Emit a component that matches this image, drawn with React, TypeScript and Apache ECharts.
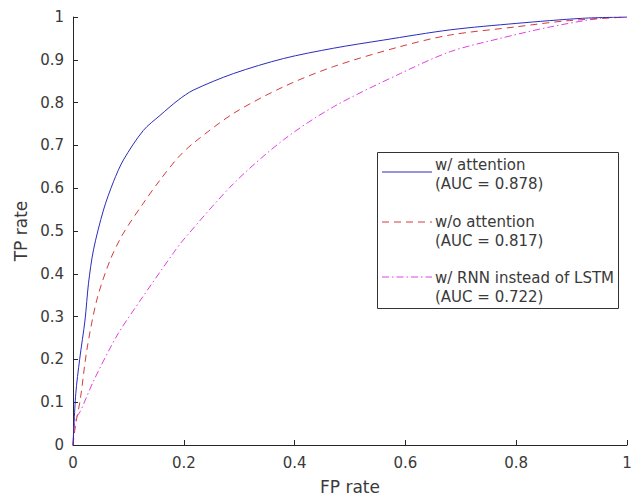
import React, { useEffect, useRef } from "react";
import * as echarts from "echarts";

const xTicks = [0, 0.2, 0.4, 0.6, 0.8, 1];
const yTicks = [0, 0.1, 0.2, 0.3, 0.4, 0.5, 0.6, 0.7, 0.8, 0.9, 1];

const attentionFpr = [0, 0.005, 0.012, 0.0217, 0.028, 0.037, 0.055, 0.073, 0.091, 0.127, 0.157, 0.19, 0.217, 0.29, 0.38, 0.47, 0.56, 0.681, 0.8, 0.92, 1];
const attentionTpr = [0, 0.12, 0.2, 0.292, 0.378, 0.456, 0.549, 0.615, 0.666, 0.735, 0.77, 0.806, 0.829, 0.868, 0.903, 0.927, 0.946, 0.97, 0.985, 0.997, 1];

const noAttentionFpr = [0, 0.005, 0.013, 0.025, 0.043, 0.067, 0.091, 0.127, 0.157, 0.19, 0.217, 0.29, 0.38, 0.47, 0.591, 0.681, 0.8, 0.89, 1];
const noAttentionTpr = [0, 0.05, 0.105, 0.222, 0.339, 0.432, 0.495, 0.565, 0.619, 0.672, 0.705, 0.775, 0.837, 0.884, 0.931, 0.958, 0.977, 0.991, 1];

const rnnFpr = [0, 0.004, 0.013, 0.038, 0.08, 0.12, 0.182, 0.199, 0.29, 0.38, 0.47, 0.591, 0.681, 0.771, 0.862, 0.952, 1];
const rnnTpr = [0, 0.06, 0.078, 0.152, 0.257, 0.335, 0.45, 0.479, 0.611, 0.713, 0.79, 0.868, 0.919, 0.95, 0.977, 0.997, 1];

const seriesNames = ["w/ attention", "w/o attention", "w/ RNN instead of LSTM"];
const aucLabels = ["(AUC = 0.878)", "(AUC = 0.817)", "(AUC = 0.722)"];

const colors = ["#2b2bbf", "#d43a3a", "#e040e0"];
const dashes: (number[] | null)[] = [null, [7, 5], [7, 3, 1.5, 3]];

const zip = (xs: number[], ys: number[]) => xs.map((x, i) => [x, ys[i]]);

const FONT = "DejaVu Sans";
const TXT = "#3a3a3a";

export default function App() {
  const ref = useRef<HTMLDivElement>(null);
  useEffect(() => {
    if (!ref.current) return;
    const chart = echarts.init(ref.current, undefined, { renderer: "svg" });
    const datas = [
      zip(attentionFpr, attentionTpr),
      zip(noAttentionFpr, noAttentionTpr),
      zip(rnnFpr, rnnTpr),
    ];
    const legendX = 377, legendY = 152, legendW = 241, legendH = 156;
    const lineYs = [172, 222, 277];
    const textYs = [[165, 184], [222, 241], [278, 297]];
    const graphics: any[] = [
      {
        type: "rect",
        shape: { x: legendX + 0.5, y: legendY + 0.5, width: legendW, height: legendH },
        style: { fill: "#fff", stroke: "#333", lineWidth: 1 },
        z: 100,
      },
    ];
    seriesNames.forEach((n, i) => {
      graphics.push({
        type: "line",
        shape: { x1: 382, y1: lineYs[i], x2: 432, y2: lineYs[i] },
        style: { stroke: colors[i], lineWidth: 1, lineDash: dashes[i] || undefined },
        z: 101,
      });
      graphics.push({
        type: "text",
        x: 435,
        y: textYs[i][0],
        style: { text: n, fill: TXT, font: `15px "${FONT}"`, verticalAlign: "middle", align: "left" },
        z: 101,
      });
      graphics.push({
        type: "text",
        x: 435,
        y: textYs[i][1],
        style: { text: aucLabels[i], fill: TXT, font: `15px "${FONT}"`, verticalAlign: "middle", align: "left" },
        z: 101,
      });
    });

    const axisCommon = {
      type: "value" as const,
      min: 0,
      max: 1,
      axisLine: { show: true, lineStyle: { color: "#262626", width: 1 } },
      axisTick: { show: true, inside: true, length: 5, lineStyle: { color: "#262626" } },
      splitLine: { show: false },
      nameLocation: "middle" as const,
      nameTextStyle: { fontFamily: FONT, fontSize: 17, color: TXT },
    };

    chart.setOption({
      animation: false,
      backgroundColor: "#ffffff",
      grid: { left: 73, right: 10, top: 17, bottom: 51, containLabel: false, outerBoundsMode: "none" },
      xAxis: {
        ...axisCommon,
        interval: 0.2,
        name: "FP rate",
        nameGap: 33,
        axisLabel: {
          fontFamily: FONT,
          fontSize: 15,
          color: TXT,
          margin: 10,
          formatter: (v: number) => {
            const t = xTicks.find((k) => Math.abs(k - v) < 1e-6);
            return t === undefined ? "" : String(t);
          },
        },
      },
      yAxis: {
        ...axisCommon,
        interval: 0.1,
        name: "TP rate",
        nameGap: 41,
        axisLabel: {
          fontFamily: FONT,
          fontSize: 15,
          color: TXT,
          margin: 9,
          formatter: (v: number) => {
            const t = yTicks.find((k) => Math.abs(k - v) < 1e-6);
            return t === undefined ? "" : String(t);
          },
        },
      },
      series: datas.map((d, i) => ({
        type: "line",
        name: seriesNames[i],
        data: d,
        showSymbol: false,
        smooth: 0.3,
        lineStyle: { color: colors[i], width: 1, type: dashes[i] || "solid" },
        z: 3 - i,
      })),
      graphic: graphics,
    });
    return () => chart.dispose();
  }, []);
  return (
    <div
      ref={ref}
      style={{ position: "fixed", left: 0, top: 0, width: 637, height: 496, background: "#fff" }}
    />
  );
}
